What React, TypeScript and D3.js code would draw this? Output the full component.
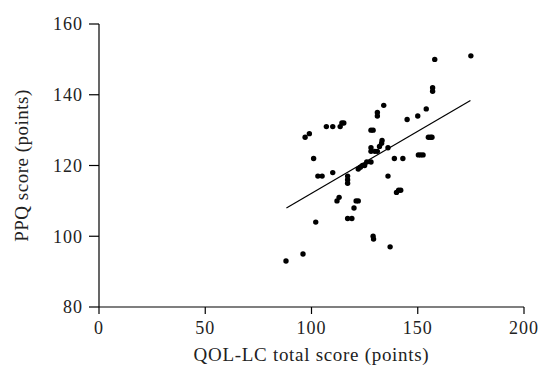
import React from "react";
import * as d3 from "d3";

const qolScores = [88, 96, 97, 99, 101, 102, 103, 105, 107, 110, 110, 112, 113, 113.5, 114.3, 115.2,
  117, 117, 117, 117, 119, 120, 121, 122, 122, 123, 124, 125, 126, 128, 128, 129, 128, 128,
  129, 129.2, 129.8, 131, 131, 131, 132, 133, 133.2, 134, 136, 136, 137, 139, 140, 141, 142,
  143, 145, 150, 150.3, 151.4, 152.5, 154, 155, 156, 156.7, 157, 157, 158, 175];
const ppqScores = [93, 95, 128, 129, 122, 104, 117, 117, 131, 131, 118, 110, 111, 131, 132, 132,
  117, 116, 115, 105, 105, 108, 110, 110, 119, 119.5, 120, 120, 121, 121, 130, 130, 125, 124,
  100, 99.2, 124, 124, 135, 134, 125.4, 126.3, 127.1, 137, 125, 117, 97, 122, 112.4, 113, 113,
  122, 133, 134, 123, 123, 123, 136, 128, 128, 128, 142, 141, 150, 151];
const fitX = [88.2, 174.8];
const fitIntercept = 77.0;
const fitSlope = 0.351;
const xTicks = [0, 50, 100, 150, 200];
const yTicks = [80, 100, 120, 140, 160];

const FONT = "'Liberation Serif', 'Times New Roman', serif";

export default function App() {
  const x = d3.scaleLinear().domain([0, 200]).range([99, 524]);
  const y = d3.scaleLinear().domain([80, 160]).range([307, 24]);
  const line = d3.line<number>().x((d) => x(d)).y((d) => y(fitIntercept + fitSlope * d));
  return (
    <svg width={540} height={378} style={{ position: "absolute", left: 0, top: 0, background: "#fff" }}>
      <line x1={x(0)} x2={x(0)} y1={y(80)} y2={y(160)} stroke="#000" strokeWidth={1.2} />
      <line x1={x(0)} x2={x(200)} y1={y(80)} y2={y(80)} stroke="#000" strokeWidth={1.2} />
      {yTicks.map((t) => (
        <g key={"y" + t}>
          <line x1={x(0) - 10} x2={x(0)} y1={y(t)} y2={y(t)} stroke="#000" strokeWidth={1.2} />
          <text x={x(0) - 16} y={y(t)} dy="0.35em" textAnchor="end" fontFamily={FONT} fontSize={18} letterSpacing={1} fill="#222">{t}</text>
        </g>
      ))}
      {xTicks.map((t) => (
        <g key={"x" + t}>
          <line x1={x(t)} x2={x(t)} y1={y(80)} y2={y(80) + 7} stroke="#000" strokeWidth={1.2} />
          <text x={x(t)} y={y(80) + 27} textAnchor="middle" fontFamily={FONT} fontSize={18} letterSpacing={1} fill="#222">{t}</text>
        </g>
      ))}
      <text x={(x(0) + x(200)) / 2} y={361} textAnchor="middle" fontFamily={FONT} fontSize={19} letterSpacing={0.7} fill="#222">QOL-LC total score (points)</text>
      <text transform={`translate(28,${(y(80) + y(160)) / 2}) rotate(-90)`} textAnchor="middle" fontFamily={FONT} fontSize={19} letterSpacing={0.5} fill="#222">PPQ score (points)</text>
      <path d={line(fitX) || ""} fill="none" stroke="#000" strokeWidth={1.2} />
      {qolScores.map((q, i) => (
        <circle key={i} cx={x(q)} cy={y(ppqScores[i])} r={2.7} fill="#000" />
      ))}
    </svg>
  );
}
